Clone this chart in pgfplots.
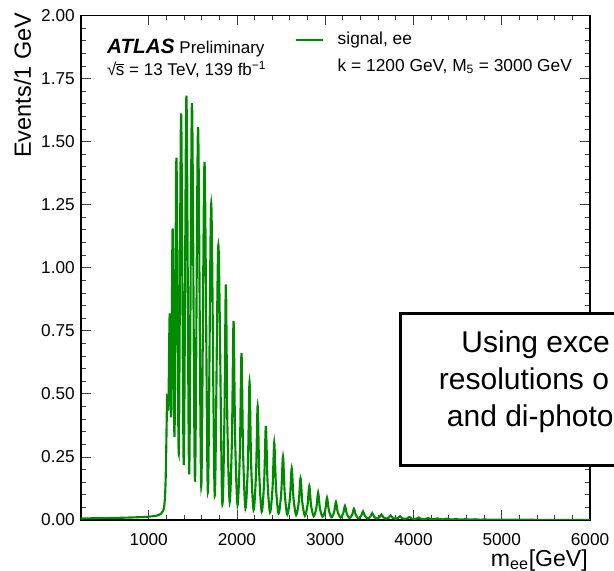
\documentclass[border=0pt]{standalone}
\usepackage{fontspec}
\setmainfont{Liberation Sans}
\usepackage{pgfplots}
\pgfplotsset{compat=1.18}
\usepackage{pgfplotstable}
\definecolor{sig}{RGB}{0,138,0}
\pgfplotstableread{
x y
230 0.006
400 0.007
600 0.008
800 0.010
950 0.012
1050 0.015
1100 0.018
1140 0.025
1160 0.034
1175 0.050
1185 0.090
1192 0.150
1198 0.250
1204 0.380
1210 0.489
1224 0.449
1239 0.819
1255 0.410
1272 1.156
1293 0.330
1315 1.436
1341 0.264
1368 1.612
1398 0.218
1428 1.682
1459 0.181
1491 1.652
1525 0.152
1560 1.557
1596 0.132
1633 1.418
1671 0.110
1709 1.255
1749 0.096
1790 1.090
1832 0.082
1858 0.389
1875 0.934
1892 0.382
1918 0.071
1944 0.329
1962 0.789
1980 0.322
2007 0.059
2034 0.276
2052 0.661
2070 0.267
2097 0.046
2125 0.227
2143 0.548
2161 0.223
2189 0.040
2217 0.189
2235 0.453
2253 0.184
2281 0.033
2309 0.155
2328 0.373
2347 0.153
2375 0.030
2404 0.130
2423 0.307
2443 0.127
2472 0.026
2502 0.107
2522 0.251
2542 0.104
2571 0.022
2601 0.088
2621 0.205
2641 0.087
2671 0.020
2701 0.072
2721 0.165
2741 0.070
2770 0.017
2800 0.059
2820 0.135
2840 0.058
2870 0.015
2900 0.048
2920 0.108
2940 0.047
2970 0.013
3001 0.040
3021 0.088
3041 0.039
3071 0.011
3102 0.0326
3122 0.071
3142 0.0316
3173 0.0095
3204 0.0262
3224 0.056
3244 0.0253
3275 0.008
3306 0.0213
3326 0.045
3346 0.0207
3377 0.007
3408 0.0167
3429 0.034
3450 0.0161
3481 0.006
3512 0.0136
3533 0.027
3554 0.0132
3585 0.0055
3616 0.0114
3637 0.022
3658 0.0111
3689 0.005
3721 0.0097
3742 0.018
3763 0.0094
3795 0.0045
3827 0.0083
3848 0.015
3869 0.0080
3900 0.004
3932 0.0069
3953 0.012
3974 0.0066
4006 0.0035
4038 0.0058
4059 0.010
4080 0.0055
4112 0.003
4144 0.0048
4165 0.008
4186 0.0046
4218 0.0027
4250 0.0041
4271 0.0065
4292 0.0039
4324 0.0024
4356 0.0034
4378 0.0052
4399 0.0032
4431 0.0021
4463 0.0029
4485 0.0042
4506 0.0027
4538 0.0018
4570 0.0024
4592 0.0035
4614 0.0023
4646 0.0016
4678 0.0021
4700 0.0029
4722 0.0019
4754 0.0014
4786 0.0018
4808 0.0024
4830 0.0016
4862 0.0012
5000 0.0011
5200 0.0009
5500 0.0006
5800 0.0004
6000 0.0003
}\sigtable
\begin{document}
\begin{tikzpicture}
\begin{axis}[
  at={(0pt,0pt)}, anchor=south west,
  scale only axis, width=382pt, height=378.4pt,
  xmin=230, xmax=6000, ymin=0, ymax=2,
  xtick={1000,2000,3000,4000,5000,6000}, minor x tick num=4,
  ytick={0,0.25,0.5,0.75,1,1.25,1.5,1.75,2}, minor y tick num=4,
  tick align=inside,
  major tick length=7.5pt, minor tick length=3.75pt,
  tick style={line width=0.6pt, black!75},
  axis line style={line width=1.4pt},
  /pgf/number format/assume math mode=true,
  tick label style={font=\fontsize{12.9}{15}\selectfont},
  xticklabel style={/pgf/number format/set thousands separator={}, inner sep=0pt, anchor=north, yshift=-10pt},
  yticklabel style={/pgf/number format/fixed, /pgf/number format/fixed zerofill, /pgf/number format/precision=2, inner sep=0pt, anchor=east, xshift=-4.3pt},
  legend style={draw=none, fill=none, at={(rel axis cs:0.4207,0.9688)}, anchor=north west,
    inner sep=0pt, outer sep=0pt, row sep=6.9pt,
    font=\fontsize{13}{15.6}\selectfont,
    nodes={inner sep=0pt, text height=10pt, text depth=3pt},
    /tikz/every odd column/.append style={column sep=10.5pt}},
  legend cell align=left,
  legend image code/.code={\draw[#1] (0pt,0pt) -- (20pt,0pt);},
]
\addplot[sig, line width=1.6pt, smooth, tension=0.5] table[x=x,y=y]{\sigtable};
\addlegendentry{signal, ee}
\addlegendimage{empty legend}
\addlegendentry{k = 1200 GeV, M\textsubscript{5} = 3000 GeV}
\end{axis}
\node[anchor=base west, inner sep=0pt] at (19.7pt,349.9pt) {{\fontsize{15.5}{18}\selectfont\bfseries\itshape ATLAS}\hspace{3.7pt}{\fontsize{12.75}{15}\selectfont Preliminary}};
\node[anchor=base west, inner sep=0pt] at (19.7pt,333.2pt) {\fontsize{12.75}{15}\selectfont √\kern-0.4pt$\overline{\mbox{s}}$ = 13 TeV, 139 fb\textsuperscript{−1}};
\node[anchor=base east, inner sep=0pt] at (380.5pt,-34.6pt) {\fontsize{17.3}{20}\selectfont m\textsubscript{ee}[GeV]};
\node[rotate=90, anchor=base east, inner sep=0pt] at (-37.3pt,380.5pt) {\fontsize{17.6}{20}\selectfont Events/1 GeV};
\begin{scope}
\clip (-60.5pt,-38.25pt) rectangle (400pt,390pt);
\draw[line width=2.25pt, fill=white] (240.2pt,41.1pt) rectangle (430pt,154.5pt);
\node[anchor=base west, inner sep=0pt, font=\fontsize{22.5}{27}\selectfont] at (285.4pt,125.25pt) {Using exce};
\node[anchor=base west, inner sep=0pt, font=\fontsize{22.5}{27}\selectfont] at (268.5pt,97.5pt) {resolutions o};
\node[anchor=base west, inner sep=0pt, font=\fontsize{22.5}{27}\selectfont] at (274.5pt,69.75pt) {and di-photo};
\end{scope}
\pgfresetboundingbox
\useasboundingbox (-60.5pt,-38.25pt) rectangle (400pt,390pt);
\end{tikzpicture}
\end{document}
